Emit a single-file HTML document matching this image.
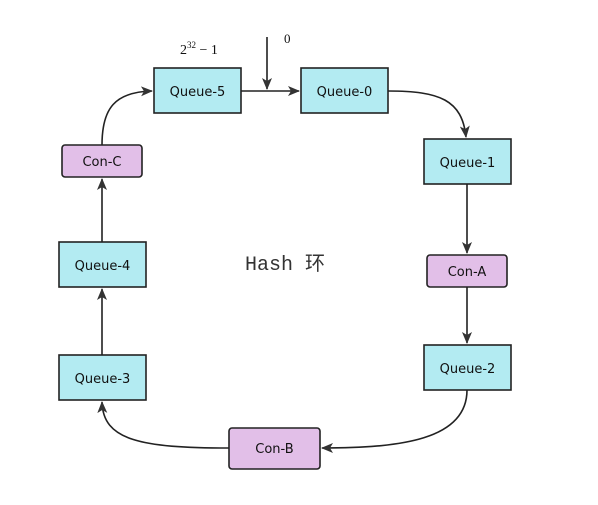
<!DOCTYPE html>
<html><head><meta charset="utf-8"><style>
body{margin:0;background:#fff;width:598px;height:500px;overflow:hidden}
svg text{font-family:"DejaVu Sans","Liberation Sans",sans-serif;font-size:13px;fill:#111}
</style></head><body>
<svg width="598" height="500" viewBox="0 0 598 500">
<defs><marker id="ah" markerWidth="12" markerHeight="10" refX="11" refY="5" orient="auto" markerUnits="userSpaceOnUse"><path d="M0,0 L12,5 L0,10 L3,5 Z" fill="#333"/></marker></defs>
<g stroke="#222" stroke-width="1.6" fill="none">
<path d="M241,91 L299,91" marker-end="url(#ah)"/>
<path d="M267,37 L267,89" marker-end="url(#ah)"/>
<path d="M388,91 C440,91 462,100 466,137" marker-end="url(#ah)"/>
<path d="M467,184 L467,253" marker-end="url(#ah)"/>
<path d="M467,287 L467,343" marker-end="url(#ah)"/>
<path d="M467,390 C467,440 400,448 322,448" marker-end="url(#ah)"/>
<path d="M229,448 C140,448 103,440 102,402" marker-end="url(#ah)"/>
<path d="M102,355 L102,289" marker-end="url(#ah)"/>
<path d="M102,242 L102,179" marker-end="url(#ah)"/>
<path d="M102,145 C102,108 115,92 152,91" marker-end="url(#ah)"/>
</g>
<g stroke="#222" stroke-width="1.6">
<g><rect x="154" y="68" width="87" height="45" fill="#b3ebf2"/><text x="197.5" y="96" text-anchor="middle" stroke="none">Queue-5</text></g>
<g><rect x="301" y="68" width="87" height="45" fill="#b3ebf2"/><text x="344.5" y="96" text-anchor="middle" stroke="none">Queue-0</text></g>
<g><rect x="424" y="139" width="87" height="45" fill="#b3ebf2"/><text x="467.5" y="167" text-anchor="middle" stroke="none">Queue-1</text></g>
<g><rect x="427" y="255" width="80" height="32" rx="3" fill="#e2bfe8"/><text x="467" y="276" text-anchor="middle" stroke="none">Con-A</text></g>
<g><rect x="424" y="345" width="87" height="45" fill="#b3ebf2"/><text x="467.5" y="373" text-anchor="middle" stroke="none">Queue-2</text></g>
<g><rect x="229" y="428" width="91" height="41" rx="3" fill="#e2bfe8"/><text x="274.5" y="453" text-anchor="middle" stroke="none">Con-B</text></g>
<g><rect x="59" y="355" width="87" height="45" fill="#b3ebf2"/><text x="102.5" y="383" text-anchor="middle" stroke="none">Queue-3</text></g>
<g><rect x="59" y="242" width="87" height="45" fill="#b3ebf2"/><text x="102.5" y="270" text-anchor="middle" stroke="none">Queue-4</text></g>
<g><rect x="62" y="145" width="80" height="32" rx="3" fill="#e2bfe8"/><text x="102" y="166" text-anchor="middle" stroke="none">Con-C</text></g>
</g>
<text x="180" y="54" style="font-family:'Liberation Serif',serif;font-size:14px">2<tspan dy="-6" font-size="9">32</tspan><tspan dy="6"> − 1</tspan></text>
<text x="284" y="43" style="font-family:'Liberation Serif',serif;font-size:13px">0</text>
<text x="245" y="270" style="font-family:'Liberation Mono','WenQuanYi Zen Hei',monospace;font-size:20px;fill:#333">Hash 环</text>
</svg>
</body></html>
